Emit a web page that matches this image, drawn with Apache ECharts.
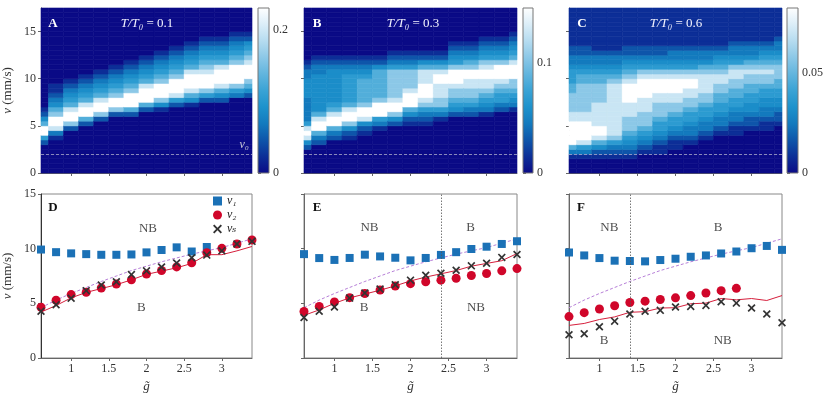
<!DOCTYPE html>
<html lang="en">
<head>
<meta charset="UTF-8">
<title>v vs g</title>
<script src="https://cdn.jsdelivr.net/npm/echarts@6/dist/echarts.min.js"></script>
<style>
    html, body { margin: 0; padding: 0; background: #fff; }
    #chart { width: 830px; height: 394px; }
</style>
</head>
<body>
<div id="chart"></div>
<script>
// ---- data ----
var gVals = [0.6, 0.8, 1.0, 1.2, 1.4, 1.6, 1.8, 2.0, 2.2, 2.4, 2.6, 2.8, 3.0, 3.2, 3.4];
var gTicks = [1, 1.5, 2, 2.5, 3];
var vTicks = [0, 5, 10, 15];
var v0 = 2;

// heat maps: one entry per g column, [first bin, digits bottom->top], bin = 0.5 mm/s
var binSize = 0.5;
var nBins = 35;
var levels = [0, 0.1, 0.2, 0.3, 0.38, 0.45, 0.56, 0.7, 0.85, 1.0]; // digit -> fraction of bar max
var heatA = [
    [6, "25996421"],
    [7, "138997643211"],
    [9, "27998654321"],
    [10, "26998654321"],
    [11, "27998654321"],
    [12, "27997654321"],
    [12, "269997654321"],
    [13, "269998654321"],
    [13, "1479997654321"],
    [14, "2589997654321"],
    [14, "14689998654321"],
    [15, "25799987654321"],
    [15, "24689998654321"],
    [16, "35799997654321"],
    [16, "24679998765421"]
];
var heatB = [
    [5, "2489853333344443321"],
    [6, "2369986444444443321"],
    [7, "236998654444444321"],
    [7, "124799865555554321"],
    [8, "12489976666654321"],
    [9, "1359997666666421"],
    [10, "2479987777775321"],
    [10, "1246999877775321"],
    [10, "1235789998886421"],
    [11, "135778889986421"],
    [12, "2456778999754321"],
    [12, "2356778899764321"],
    [12, "13456788998754321"],
    [13, "2355678999754321"],
    [13, "13456779998654321"]
];
var heatC = [
    [3, "13699999887777665554332211111111"],
    [3, "13589999887777776654332211111111"],
    [3, "12468998888877776654332111111111"],
    [3, "12357888888888887654332111111111"],
    [3, "12345677788899998765432211111111"],
    [3, "01234567778889999875432211111111"],
    [3, "01123455677788999875432211111111"],
    [3, "00112345567788999875433211111111"],
    [3, "00012334556778899875433211111111"],
    [3, "00001233455677888876433211111111"],
    [3, "00000123345566778876543211111111"],
    [3, "00000112334556677887543321111111"],
    [3, "00000012234455667787643321111111"],
    [3, "00000011233445567787654321111111"],
    [3, "00000001223445566777654332111111"]
];
var cbarMax = [0.23, 0.15, 0.082];
var cbarTick = [0.2, 0.1, 0.05];
var ratios = ['0.1', '0.3', '0.6'];

// speeds (mm/s) per g column
var v1D = [9.92, 9.68, 9.57, 9.5, 9.44, 9.44, 9.47, 9.66, 9.88, 10.12, 9.74, 10.15, null, null, null];
var v2D = [4.64, 5.28, 5.8, 6.01, 6.4, 6.77, 7.15, 7.68, 8.0, 8.33, 8.71, 9.63, 10.03, 10.43, 10.79];
var vsD = [4.27, 4.87, 5.47, 6.16, 6.67, 6.97, 7.63, 7.97, 8.33, 8.69, 9.17, 9.41, 9.8, 10.43, 10.67];
var lineD = [4.2, 4.8, 5.5, 6.0, 6.35, 6.7, 7.15, 7.65, 7.95, 8.25, 8.65, 9.45, 9.45, 9.8, 10.2];

var v1E = [9.5, 9.14, 8.97, 9.15, 9.45, 9.29, 9.17, 8.93, 9.15, 9.43, 9.68, 9.97, 10.18, 10.43, 10.68];
var v2E = [4.25, 4.72, 5.13, 5.52, 5.9, 6.22, 6.58, 6.8, 6.97, 7.12, 7.29, 7.55, 7.73, 7.97, 8.18];
var vsE = [3.7, 4.27, 4.66, 5.48, 5.95, 6.3, 6.7, 7.12, 7.57, 7.75, 8.03, 8.43, 8.67, 9.2, 9.47];
var lineE = [3.9, 4.4, 5.0, 5.5, 5.85, 6.2, 6.6, 7.05, 7.4, 7.7, 8.0, 8.4, 8.65, 8.9, 9.55];

var v1F = [9.65, 9.38, 9.14, 8.9, 8.87, 8.84, 8.96, 9.08, 9.26, 9.38, 9.56, 9.74, 10.04, 10.25, 9.89];
var v2F = [3.79, 4.15, 4.48, 4.78, 5.08, 5.2, 5.35, 5.5, 5.71, 5.95, 6.16, 6.37, null, null, null];
var vsF = [2.13, 2.22, 2.86, 3.37, 4.03, 4.27, 4.36, 4.66, 4.72, 4.81, 5.14, 5.02, 4.57, 4.03, 3.22];
var lineF = [2.98, 3.16, 3.52, 3.76, 4.18, 4.24, 4.57, 4.6, 4.96, 5.02, 5.44, 5.32, 5.44, 5.26, 5.71];

var vTheory = [4.6, 5.3, 5.9, 6.45, 7.0, 7.5, 8.0, 8.4, 8.8, 9.15, 9.5, 9.8, 10.1, 10.5, 10.9];

var splitE = 2.4;
var splitF = 1.4;

var notesD = [[2.02, 11.8, 'NB'], [1.93, 4.6, 'B']];
var notesE = [[1.46, 11.9, 'NB'], [2.79, 11.9, 'B'], [1.39, 4.6, 'B'], [2.86, 4.6, 'NB']];
var notesF = [[1.13, 11.9, 'NB'], [2.56, 11.9, 'B'], [1.06, 1.6, 'B'], [2.62, 1.6, 'NB']];

// colour map of the bars, even stops from 0 to max
var cmap = ['#0a0a86', '#0c2e97', '#0e55aa', '#137abe', '#1d92cc', '#3aa3d5',
            '#62b5de', '#8cc8e7', '#b6dcf0', '#dceef8', '#ffffff'];

// ---- helpers ----
var serif = "'Liberation Serif', 'DejaVu Serif', serif";
var panelLeft = [39, 304, 569];
var cbLeft = [258, 523, 787];

function heatCells(cols, vmax) {
    var out = [];
    cols.forEach(function (c, i) {
        for (var b = 0; b < nBins; b++) {
            var k = b - c[0];
            var d = (k >= 0 && k < c[1].length) ? +c[1][k] : 0;
            out.push([gVals[i], (b + 0.5) * binSize, levels[d] * vmax]);
        }
    });
    return out;
}

function pairs(vals) {
    var out = [];
    vals.forEach(function (v, i) { if (v !== null) out.push([gVals[i], v]); });
    return out;
}

function renderCell(params, api) {
    var g = api.value(0), v = api.value(1);
    var p0 = api.coord([g - 0.1, v + binSize / 2]);
    var p1 = api.coord([g + 0.1, v - binSize / 2]);
    var cs = params.coordSys;
    var rect = echarts.graphic.clipRectByRect(
        {x: p0[0], y: p0[1], width: p1[0] - p0[0], height: p1[1] - p0[1]},
        {x: cs.x, y: cs.y, width: cs.width, height: cs.height});
    if (!rect) return;
    var col = api.visual('color');
    return {type: 'rect', shape: rect, style: {fill: col, stroke: col, lineWidth: 0.6}};
}

function renderBar(params, api) {
    var p0 = api.coord([0, api.value(1)]);
    var p1 = api.coord([1, 0]);
    var stops = cmap.map(function (c, i) { return {offset: i / (cmap.length - 1), color: c}; });
    return {
        type: 'rect',
        shape: {x: p0[0], y: p0[1], width: p1[0] - p0[0], height: p1[1] - p0[1]},
        style: {fill: new echarts.graphic.LinearGradient(0, 1, 0, 0, stops), stroke: '#777', lineWidth: 1}
    };
}

var axisCol = '#666';
var lblStyle = {color: '#333', fontFamily: serif, fontSize: 12};

function gAxis(grid, withLabels) {
    return {
        type: 'value', gridIndex: grid, min: 0.6, max: 3.4,
        splitLine: {show: false},
        axisLine: {show: true, onZero: false, lineStyle: {color: axisCol}},
        axisTick: {show: true, length: 3, customValues: gTicks, lineStyle: {color: axisCol}},
        axisLabel: Object.assign({show: withLabels, customValues: gTicks, margin: 5}, lblStyle),
        name: withLabels ? 'g\u0303' : '', nameLocation: 'middle', nameGap: 22,
        nameTextStyle: {fontFamily: serif, fontStyle: 'italic', fontSize: 13, color: '#333'}
    };
}

function vAxis(grid, max, withLabels) {
    return {
        type: 'value', gridIndex: grid, min: 0, max: max, interval: 5,
        splitLine: {show: false},
        axisLine: {show: true, onZero: false, lineStyle: {color: withLabels ? '#333' : axisCol}},
        axisTick: {show: true, length: 3, customValues: vTicks, lineStyle: {color: axisCol}},
        axisLabel: Object.assign({show: withLabels, customValues: vTicks, margin: 5}, lblStyle),
        name: withLabels ? '{i|v} (mm/s)' : '', nameLocation: 'middle', nameGap: 27,
        nameTextStyle: {fontFamily: serif, fontSize: 13, color: '#333',
            rich: {i: {fontFamily: serif, fontStyle: 'italic', fontSize: 13, color: '#333'}}}
    };
}

// ---- layout ----
var grids = [], xAxes = [], yAxes = [], series = [], visualMaps = [];

panelLeft.forEach(function (l) { grids.push({left: l, top: 8, width: 213, height: 165}); });
cbLeft.forEach(function (l, i) { grids.push({left: l, top: 8, width: i === 1 ? 10 : 11, height: 165}); });
panelLeft.forEach(function (l) {
    grids.push({left: l, top: 194, width: 213, height: 167, show: true, borderColor: '#888', borderWidth: 1});
});

// top heat maps
[heatA, heatB, heatC].forEach(function (h, i) {
    xAxes.push(gAxis(i, false));
    yAxes.push(vAxis(i, 17.5, i === 0));
    visualMaps.push({
        show: false, seriesIndex: series.length, dimension: 2,
        min: 0, max: cbarMax[i], inRange: {color: cmap}
    });
    series.push({
        type: 'custom', xAxisIndex: i, yAxisIndex: i, silent: true,
        data: heatCells(h, cbarMax[i]), renderItem: renderCell, encode: {x: 0, y: 1},
        markLine: {
            silent: true, symbol: 'none', animation: false,
            lineStyle: {color: '#a8a8c8', type: [3, 2], width: 0.8},
            label: {
                show: i === 0, position: 'insideEndTop', formatter: 'v\u2080', distance: 3,
                color: '#c8c8d8', fontFamily: serif, fontStyle: 'italic', fontSize: 12
            },
            data: [{yAxis: v0}]
        }
    });
});

// colour bars
cbarMax.forEach(function (m, i) {
    var gi = 3 + i;
    xAxes.push({type: 'value', gridIndex: gi, min: 0, max: 1, show: false});
    yAxes.push({
        type: 'value', gridIndex: gi, position: 'right', min: 0, max: m,
        splitLine: {show: false}, axisLine: {show: false},
        axisTick: {show: true, length: 3, customValues: [0, cbarTick[i]], lineStyle: {color: axisCol}},
        axisLabel: Object.assign({customValues: [0, cbarTick[i]], margin: 4}, lblStyle)
    });
    series.push({
        type: 'custom', xAxisIndex: gi, yAxisIndex: gi, silent: true,
        data: [[1, m]], renderItem: renderBar, encode: {x: 0, y: 1}
    });
});

// bottom panels
var crossPath = 'path://M1.5,0L5,3.5L8.5,0L10,1.5L6.5,5L10,8.5L8.5,10L5,6.5L1.5,10L0,8.5L3.5,5L0,1.5Z';
var bottom = [
    {v1: v1D, v2: v2D, vs: vsD, line: lineD, notes: notesD, split: null},
    {v1: v1E, v2: v2E, vs: vsE, line: lineE, notes: notesE, split: splitE},
    {v1: v1F, v2: v2F, vs: vsF, line: lineF, notes: notesF, split: splitF}
];
bottom.forEach(function (p, i) {
    var gi = 6 + i;
    xAxes.push(gAxis(gi, true));
    yAxes.push(vAxis(gi, 15, i === 0));
    var ax = {xAxisIndex: gi, yAxisIndex: gi};
    series.push(Object.assign({
        type: 'line', name: 'theory', data: pairs(vTheory), showSymbol: false, silent: true,
        lineStyle: {color: '#b77fd8', width: 1, type: [3, 2]}, z: 2
    }, ax));
    var redLine = Object.assign({
        type: 'line', name: 'model', data: pairs(p.line), showSymbol: false, silent: true,
        lineStyle: {color: '#d61f3c', width: 1}, z: 2
    }, ax);
    if (p.split !== null) {
        redLine.markLine = {
            silent: true, symbol: 'none', animation: false, label: {show: false},
            lineStyle: {color: '#555', type: [1.5, 1.5], width: 0.8},
            data: [{xAxis: p.split}]
        };
    }
    series.push(redLine);
    series.push(Object.assign({
        type: 'scatter', name: 'v\u2081', data: pairs(p.v1), symbol: 'rect', symbolSize: 8,
        itemStyle: {color: '#1b71b6', opacity: 1}, z: 3
    }, ax));
    series.push(Object.assign({
        type: 'scatter', name: 'v\u2082', data: pairs(p.v2), symbol: 'circle', symbolSize: 9,
        itemStyle: {color: '#d0062a', opacity: 1}, z: 4
    }, ax));
    series.push(Object.assign({
        type: 'scatter', name: 'v\u209b', data: pairs(p.vs), symbol: crossPath, symbolSize: 8,
        itemStyle: {color: '#333', opacity: 1}, z: 5
    }, ax));
    series.push(Object.assign({
        type: 'scatter', name: 'notes', data: p.notes, symbolSize: 0, silent: true,
        label: {
            show: true, position: 'inside', formatter: function (d) { return d.value[2]; },
            color: '#222', fontFamily: serif, fontSize: 13
        }, z: 6
    }, ax));
});

// panel letters and titles
var graphics = [];
[['A', 53, 24], ['B', 317, 24], ['C', 582, 24]].forEach(function (t) {
    graphics.push({type: 'text', x: t[1], y: t[2], z: 100, style: {
        text: t[0], fill: '#fff', fontFamily: serif, fontWeight: 'bold', fontSize: 13,
        align: 'center', verticalAlign: 'middle'}});
});
[['D', 53, 208], ['E', 317, 208], ['F', 581, 208]].forEach(function (t) {
    graphics.push({type: 'text', x: t[1], y: t[2], z: 100, style: {
        text: t[0], fill: '#111', fontFamily: serif, fontWeight: 'bold', fontSize: 13,
        align: 'center', verticalAlign: 'middle'}});
});
[147, 413, 676].forEach(function (x, i) {
    graphics.push({type: 'text', x: x, y: 24, z: 100, style: {
        text: '{i|T/T\u2080} = ' + ratios[i], fill: '#f4f4ff', fontFamily: serif, fontSize: 13,
        align: 'center', verticalAlign: 'middle',
        rich: {i: {fontFamily: serif, fontStyle: 'italic', fontSize: 13, fill: '#f4f4ff'}}}});
});

var chart = echarts.init(document.getElementById('chart'));
chart.setOption({
    animation: false,
    backgroundColor: '#fff',
    grid: grids,
    xAxis: xAxes,
    yAxis: yAxes,
    visualMap: visualMaps,
    series: series,
    graphic: graphics,
    legend: {
        data: ['v\u2081', 'v\u2082', 'v\u209b'], orient: 'vertical', left: 213, top: 195,
        itemWidth: 9, itemHeight: 9, itemGap: 2, selectedMode: false, padding: 0,
        textStyle: {fontFamily: serif, fontStyle: 'italic', fontSize: 12, color: '#222', lineHeight: 11}
    }
});
</script>
</body>
</html>
